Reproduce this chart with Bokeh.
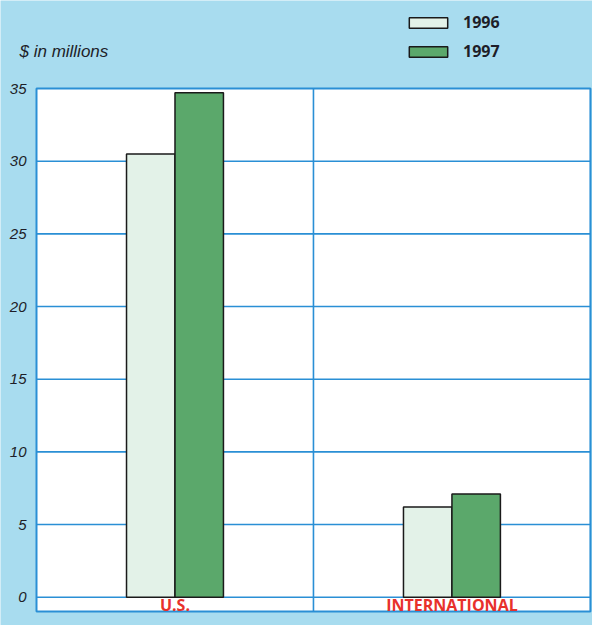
from bokeh.plotting import figure
from bokeh.models import Range1d, Label, ColumnDataSource, Legend, LegendItem
from bokeh.transform import dodge
from bokeh.core.properties import value
from bokeh.embed import file_html
from bokeh.resources import INLINE

# ---- data ----
categories = ["U.S.", "INTERNATIONAL"]
years = ["1996", "1997"]
values_1996 = [30.5, 6.2]
values_1997 = [34.7, 7.1]
y_ticks = [0, 5, 10, 15, 20, 25, 30, 35]
y_tick_labels = [str(t) for t in y_ticks]
unit_label = "$ in millions"

BG = "#a8dcef"
BLUE = "#2a8fd5"
LIGHT = "#e3f2e8"
GREEN = "#5ba86b"
RED = "#e8312b"
DARK = "#1e1e28"

n = len(categories)
x_center = [i + 0.5 for i in range(n)]
y_min_box = -0.98
y_max = y_ticks[-1]

src = ColumnDataSource(dict(x=x_center, cat=categories, v96=values_1996, v97=values_1997))

p = figure(x_range=Range1d(-0.13, n + 0.0075),
           y_range=Range1d(-1.947, 41.055),
           width=592, height=625,
           output_backend="svg", toolbar_location=None,
           x_axis_location=None, y_axis_location=None,
           min_border=0)
p.grid.visible = False
p.background_fill_color = BG
p.border_fill_color = BG
p.outline_line_color = None

# white plotting box
p.quad(left=0, right=n, bottom=y_min_box, top=y_max,
       fill_color="white", line_color=BLUE, line_width=2)
# horizontal gridlines
p.segment(x0=0, x1=n, y0=y_ticks[:-1], y1=y_ticks[:-1], line_color=BLUE, line_width=1.6)
# dividers between categories
div = list(range(1, n))
p.segment(x0=div, x1=div, y0=y_min_box, y1=y_max, line_color=BLUE, line_width=1.6)

# y tick labels
p.text(x=-0.036, y=y_ticks, text=y_tick_labels,
       text_font=value("Liberation Sans"), text_font_style="italic",
       text_font_size="15px", text_color=DARK,
       text_align="right", text_baseline="alphabetic")

bw = 0.175
r96 = p.vbar(x=dodge("x", -bw / 2), top="v96", width=bw, bottom=0,
             source=src, fill_color=LIGHT, line_color="#1a1a1a", line_width=1.5)
r97 = p.vbar(x=dodge("x", bw / 2), top="v97", width=bw, bottom=0,
             source=src, fill_color=GREEN, line_color="#1a1a1a", line_width=1.5)

# category labels inside the white box below zero
p.text(x="x", y=-0.56, text="cat", source=src,
       text_font=value("Open Sans"), text_font_style="bold", text_font_size="16px",
       text_color=RED, text_align="center", text_baseline="middle")

# unit label
p.add_layout(Label(x=-0.0614, y=37.57, text=unit_label,
                   text_font="Liberation Sans", text_font_style="italic",
                   text_font_size="17px", text_color=DARK, text_baseline="middle"))

legend = Legend(items=[LegendItem(label=years[0], renderers=[r96]),
                       LegendItem(label=years[1], renderers=[r97])],
                location=(404, 563), orientation="vertical",
                glyph_width=48, glyph_height=13, label_height=20, spacing=7,
                label_standoff=11, padding=0, margin=0,
                background_fill_alpha=0, border_line_color=None,
                label_text_font="Open Sans", label_text_font_style="bold",
                label_text_font_size="16px", label_text_color=DARK)
p.add_layout(legend)

open("out.html", "w").write(file_html(p, INLINE))
